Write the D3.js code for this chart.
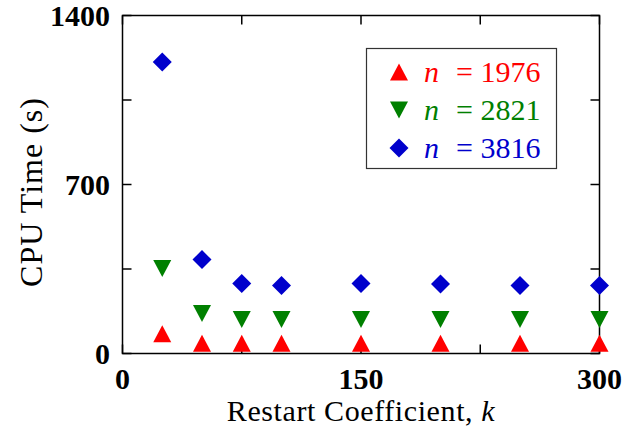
<!DOCTYPE html>
<html>
  <head>
    <meta charset="UTF-8" />
    <script src="https://cdnjs.cloudflare.com/ajax/libs/d3/7.8.5/d3.min.js"></script>
    <style>
      body { margin: 0; background: #fff; }
      svg { font-family: "Liberation Serif", "Times New Roman", serif; }
      .tick-label { font-weight: bold; font-size: 30px; fill: #000; }
      .axis-title { font-size: 30px; fill: #000; }
      .frame { fill: none; stroke: #000; stroke-width: 1.5; }
      .tick { stroke: #000; stroke-width: 1.5; }
      .legend-box { fill: #fff; stroke: #333; stroke-width: 1.2; }
      .legend-text { font-size: 30px; }
    </style>
  </head>
  <body>
    <svg width="638" height="434"></svg>
    <script>
      // restart coefficient k
      var kValues = [25, 50, 75, 100, 150, 200, 250, 300];

      // CPU time (s) per problem size
      var cpu1976 = [82, 42, 42, 42, 42, 42, 42, 42];
      var cpu2821 = [352, 166, 141, 141, 141, 141, 141, 141];
      var cpu3816 = [1207, 389, 290, 282, 290, 288, 282, 282];

      var seriesNames = ["1976", "2821", "3816"];
      var seriesColors = ["#ff0000", "#008000", "#0000cc"];
      var seriesShapes = ["up", "down", "diamond"];

      var xTickLabels = [0, 150, 300];
      var yTickLabels = [0, 700, 1400];
      var xMinorTicks = [0, 75, 150, 225, 300];
      var yMinorTicks = [0, 350, 700, 1050, 1400];

      var series = [cpu1976, cpu2821, cpu3816].map((vals, i) => ({
        name: seriesNames[i],
        color: seriesColors[i],
        shape: seriesShapes[i],
        points: vals.map((v, j) => ({ k: kValues[j], t: v }))
      }));

      var plotLeft = 122.5, plotRight = 599.5, plotTop = 15.5, plotBottom = 353.5;

      var x = d3.scaleLinear().domain([0, 300]).range([plotLeft, plotRight]);
      var y = d3.scaleLinear().domain([0, 1400]).range([plotBottom, plotTop]);

      var svg = d3.select("svg");

      function markerPath(shape) {
        var p = d3.path();
        if (shape == "up") {
          p.moveTo(0, -8.5); p.lineTo(9, 8.5); p.lineTo(-9, 8.5); p.closePath();
        } else if (shape == "down") {
          p.moveTo(-9, -8.5); p.lineTo(9, -8.5); p.lineTo(0, 8.5); p.closePath();
        } else {
          p.moveTo(0, -9.5); p.lineTo(9.5, 0); p.lineTo(0, 9.5); p.lineTo(-9.5, 0); p.closePath();
        }
        return p.toString();
      }

      // frame
      svg.append("rect")
        .attr("class", "frame")
        .attr("x", plotLeft).attr("y", plotTop)
        .attr("width", plotRight - plotLeft).attr("height", plotBottom - plotTop);

      // inward ticks on all four sides
      var tl = 9;
      xMinorTicks.forEach(d => {
        svg.append("line").attr("class", "tick")
          .attr("x1", x(d)).attr("x2", x(d)).attr("y1", plotBottom).attr("y2", plotBottom - tl);
        svg.append("line").attr("class", "tick")
          .attr("x1", x(d)).attr("x2", x(d)).attr("y1", plotTop).attr("y2", plotTop + tl);
      });
      yMinorTicks.forEach(d => {
        svg.append("line").attr("class", "tick")
          .attr("x1", plotLeft).attr("x2", plotLeft + tl).attr("y1", y(d)).attr("y2", y(d));
        svg.append("line").attr("class", "tick")
          .attr("x1", plotRight).attr("x2", plotRight - tl).attr("y1", y(d)).attr("y2", y(d));
      });

      svg.selectAll("text.xlab")
        .data(xTickLabels)
        .enter()
        .append("text")
        .attr("class", "tick-label xlab")
        .attr("x", d => x(d))
        .attr("y", 389)
        .attr("text-anchor", "middle")
        .text(d => d);

      svg.selectAll("text.ylab")
        .data(yTickLabels)
        .enter()
        .append("text")
        .attr("class", "tick-label ylab")
        .attr("x", 110)
        .attr("y", d => y(d) + 10)
        .attr("text-anchor", "end")
        .text(d => d);

      svg.append("text")
        .attr("class", "axis-title")
        .attr("x", (plotLeft + plotRight) / 2)
        .attr("y", 421)
        .attr("text-anchor", "middle")
        .style("letter-spacing", "0.6px")
        .html('Restart Coefficient, <tspan font-style="italic">k</tspan>');

      svg.append("text")
        .attr("class", "axis-title")
        .attr("transform", "translate(42,192) rotate(-90)")
        .attr("text-anchor", "middle")
        .style("font-size", "32px")
        .style("letter-spacing", "1px")
        .text("CPU Time (s)");

      // data markers
      series.forEach(s => {
        svg.selectAll(null)
          .data(s.points)
          .enter()
          .append("path")
          .attr("d", markerPath(s.shape))
          .attr("transform", d => "translate(" + x(d.k) + "," + y(d.t) + ")")
          .style("fill", s.color);
      });

      // legend
      var legend = svg.append("g");
      legend.append("rect")
        .attr("class", "legend-box")
        .attr("x", 366.5).attr("y", 48.5)
        .attr("width", 190).attr("height", 120);

      var rows = legend.selectAll("g.row")
        .data(series)
        .enter()
        .append("g")
        .attr("class", "row")
        .attr("transform", (d, i) => "translate(0," + (72 + i * 38) + ")");

      rows.append("path")
        .attr("transform", "translate(399,0)")
        .attr("d", d => markerPath(d.shape))
        .style("fill", d => d.color);

      rows.append("text")
        .attr("class", "legend-text")
        .attr("x", 424)
        .attr("y", 10)
        .style("fill", d => d.color)
        .html(d => '<tspan font-style="italic">n</tspan><tspan x="456">= ' + d.name + '</tspan>');
    </script>
  </body>
</html>
